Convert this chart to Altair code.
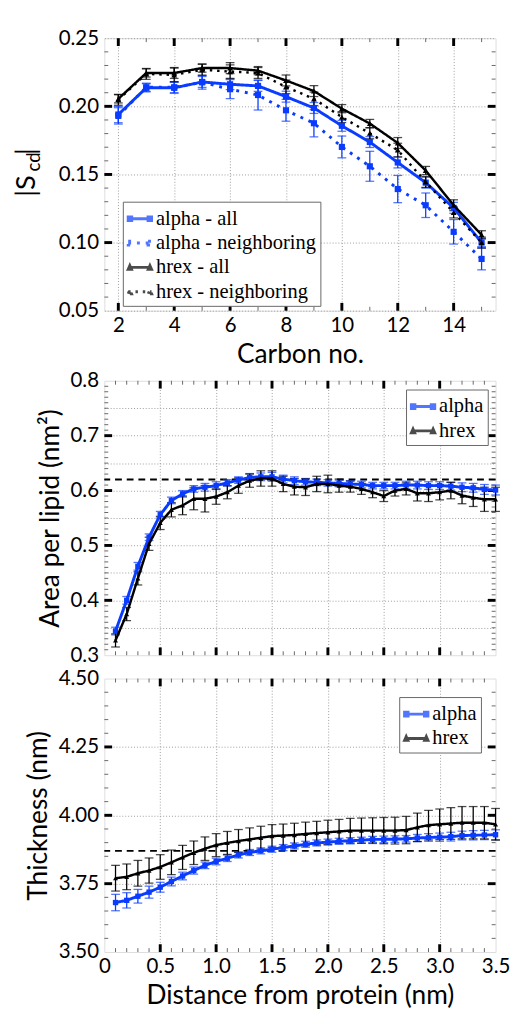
import altair as alt
import pandas as pd

# ---------------- data ----------------
carbon = [2, 3, 4, 5, 6, 7, 8, 9, 10, 11, 12, 13, 14, 15]
scd_alpha_all = [0.194, 0.2136, 0.2136, 0.2179, 0.2162, 0.215, 0.2071, 0.1988, 0.1857, 0.1738, 0.1588, 0.1440, 0.1255, 0.1000]
scd_alpha_all_err = [0.006, 0.003, 0.004, 0.004, 0.004, 0.004, 0.004, 0.004, 0.004, 0.004, 0.004, 0.004, 0.004, 0.003]
scd_alpha_nb = [0.193, 0.2140, 0.2140, 0.2176, 0.2126, 0.2083, 0.1971, 0.1876, 0.1702, 0.1560, 0.1393, 0.1274, 0.1079, 0.0880]
scd_alpha_nb_err = [0.006, 0.003, 0.004, 0.005, 0.007, 0.011, 0.008, 0.010, 0.008, 0.011, 0.010, 0.009, 0.009, 0.008]
scd_hrex_all = [0.2055, 0.2245, 0.2245, 0.2281, 0.2281, 0.2262, 0.2190, 0.2112, 0.1983, 0.1874, 0.1731, 0.1529, 0.1274, 0.1057]
scd_hrex_all_err = [0.003, 0.003, 0.004, 0.003, 0.004, 0.003, 0.004, 0.004, 0.003, 0.003, 0.004, 0.003, 0.004, 0.003]
scd_hrex_nb = [0.2048, 0.2238, 0.2231, 0.2269, 0.2255, 0.2245, 0.2143, 0.2055, 0.1921, 0.1802, 0.1679, 0.1445, 0.1221, 0.1000]
scd_hrex_nb_err = [0.004, 0.004, 0.005, 0.004, 0.005, 0.004, 0.005, 0.005, 0.004, 0.004, 0.005, 0.004, 0.004, 0.004]

dist = [0.1, 0.2, 0.3, 0.4, 0.5, 0.6, 0.7, 0.8, 0.9, 1.0,
        1.1, 1.2, 1.3, 1.4, 1.5, 1.6, 1.7, 1.8, 1.9, 2.0,
        2.1, 2.2, 2.3, 2.4, 2.5, 2.6, 2.7, 2.8, 2.9, 3.0,
        3.1, 3.2, 3.3, 3.4, 3.5]
apl_alpha = [0.344, 0.400, 0.462, 0.515, 0.556, 0.582, 0.594, 0.603, 0.606, 0.609,
             0.614, 0.619, 0.624, 0.625, 0.625, 0.621, 0.618, 0.616, 0.615, 0.614,
             0.613, 0.612, 0.611, 0.609, 0.609, 0.609, 0.610, 0.610, 0.609, 0.609,
             0.608, 0.606, 0.605, 0.602, 0.601]
apl_alpha_err = [0.007, 0.007, 0.007, 0.006, 0.006, 0.006, 0.006, 0.006, 0.007, 0.007,
                 0.006, 0.006, 0.007, 0.007, 0.008, 0.007, 0.007, 0.006, 0.006, 0.006,
                 0.006, 0.006, 0.006, 0.006, 0.006, 0.006, 0.007, 0.007, 0.007, 0.007,
                 0.007, 0.008, 0.008, 0.009, 0.009]
apl_hrex = [0.327, 0.375, 0.440, 0.503, 0.541, 0.565, 0.573, 0.585, 0.585, 0.589,
            0.597, 0.609, 0.618, 0.622, 0.622, 0.612, 0.607, 0.606, 0.612, 0.612,
            0.609, 0.607, 0.603, 0.597, 0.590, 0.600, 0.603, 0.595, 0.595, 0.597,
            0.600, 0.591, 0.587, 0.584, 0.584]
apl_hrex_err = [0.012, 0.012, 0.012, 0.012, 0.012, 0.013, 0.017, 0.020, 0.024, 0.014,
                0.012, 0.014, 0.012, 0.014, 0.014, 0.014, 0.015, 0.015, 0.014, 0.016,
                0.012, 0.010, 0.010, 0.010, 0.010, 0.010, 0.011, 0.014, 0.015, 0.014,
                0.015, 0.015, 0.016, 0.022, 0.022]
thk_alpha = [3.681, 3.689, 3.704, 3.719, 3.737, 3.758, 3.778, 3.798, 3.817, 3.831,
             3.843, 3.855, 3.864, 3.870, 3.876, 3.882, 3.888, 3.894, 3.899, 3.902,
             3.905, 3.907, 3.909, 3.912, 3.912, 3.913, 3.914, 3.917, 3.919, 3.920,
             3.922, 3.926, 3.927, 3.928, 3.929]
thk_alpha_err = [0.030, 0.028, 0.025, 0.022, 0.018, 0.016, 0.014, 0.013, 0.012, 0.012,
                 0.012, 0.011, 0.011, 0.011, 0.011, 0.011, 0.011, 0.011, 0.011, 0.011,
                 0.011, 0.011, 0.011, 0.011, 0.012, 0.012, 0.012, 0.013, 0.014, 0.015,
                 0.016, 0.016, 0.017, 0.017, 0.018]
thk_hrex = [3.770, 3.775, 3.788, 3.798, 3.811, 3.828, 3.846, 3.863, 3.878, 3.891,
            3.899, 3.906, 3.912, 3.918, 3.924, 3.926, 3.928, 3.932, 3.935, 3.938,
            3.941, 3.944, 3.944, 3.944, 3.944, 3.944, 3.946, 3.956, 3.964, 3.967,
            3.970, 3.973, 3.973, 3.973, 3.967]
thk_hrex_err = [0.047, 0.047, 0.047, 0.046, 0.045, 0.045, 0.044, 0.043, 0.043, 0.042,
                0.042, 0.042, 0.042, 0.042, 0.042, 0.042, 0.043, 0.043, 0.043, 0.044,
                0.044, 0.045, 0.046, 0.047, 0.048, 0.049, 0.050, 0.052, 0.054, 0.056,
                0.058, 0.059, 0.059, 0.059, 0.058]
apl_ref = 0.62
thk_ref = 3.87

top_names = ["alpha - all", "alpha - neighboring", "hrex - all", "hrex - neighboring"]

top_xticks = [2, 4, 6, 8, 10, 12, 14]
top_yticks = [0.05, 0.10, 0.15, 0.20, 0.25]
apl_yticks = [0.3, 0.4, 0.5, 0.6, 0.7, 0.8]
thk_yticks = [3.50, 3.75, 4.00, 4.25, 4.50]
dist_xticks = [0, 0.5, 1.0, 1.5, 2.0, 2.5, 3.0, 3.5]

# ---------------- style ----------------
BLUE = "#0a3cff"
BLACK = "#000000"
SANS = "Lato"
SERIF = "Liberation Serif"
W = 402
SOLID = [1, 0]

SQ = "M-1,0H1M-1,-0.16H-0.7V0.16H-1ZM0.7,-0.16H1V0.16H0.7Z"
TR = "M-1,0H1M-1,0.17L-0.86,-0.15L-0.72,0.17ZM0.72,0.17L0.86,-0.15L1,0.17Z"


def frame(xs, ys, name, e):
    return pd.DataFrame({"x": xs, "y": ys, "lo": [a - b for a, b in zip(ys, e)],
                         "hi": [a + b for a, b in zip(ys, e)], "series": name})


def grid_axis(orient, values):
    return alt.Axis(orient=orient, values=values, labels=False, domain=False, ticks=False,
                    grid=True, gridDash=[1, 2], gridColor="#9a9a9a", gridWidth=1,
                    title=None, minExtent=0, maxExtent=0)


def tick_layers(values, scale, which, H, size, width, color):
    d = alt.Chart(pd.DataFrame({"v": values})).mark_rule(strokeWidth=width, color=color)
    out = []
    if which == "x":
        X = alt.X("v:Q", scale=scale, axis=None)
        out.append(d.encode(x=X, y=alt.value(H), y2=alt.value(H - size)))
        out.append(d.encode(x=X, y=alt.value(0), y2=alt.value(size)))
    else:
        Y = alt.Y("v:Q", scale=scale, axis=None)
        out.append(d.encode(y=Y, x=alt.value(0), x2=alt.value(size)))
        out.append(d.encode(y=Y, x=alt.value(W), x2=alt.value(W - size)))
    return out


def panel(series, xdom, ydom, xlab, xlabexpr, ylab, yfmt, xgrid, ygrid,
          xmaj, xmin, ymaj, ymin, xtitle, ytitle, legxy, H, ref=None, extra=()):
    xs = alt.Scale(domain=xdom, nice=False, zero=False)
    ys = alt.Scale(domain=ydom, nice=False, zero=False)
    df = pd.concat([s["df"] for s in series])
    layers = []
    pts = alt.Chart(df).mark_point(opacity=0)
    layers.append(pts.encode(x=alt.X("x:Q", scale=xs, axis=grid_axis("bottom", xgrid)),
                             y=alt.Y("y:Q", scale=ys, axis=grid_axis("left", ygrid))))
    if xtitle is not None:
        xax = alt.Axis(orient="bottom", values=xlab, labelExpr=xlabexpr, ticks=False, domain=False,
                       grid=False, labelFont=SANS, labelFontSize=21, labelColor="black",
                       labelPadding=4, labelFlush=False, labelOverlap=False,
                       title=xtitle, titleFont=SANS, titleFontSize=27, titleFontWeight="normal",
                       titleColor="black", titlePadding=7)
    else:
        xax = None
    yargs = dict(orient="left", values=ylab, format=yfmt, ticks=False, domain=False, grid=False,
                 labelFont=SANS, labelFontSize=21, labelColor="black", labelPadding=6,
                 labelFlush=False, labelOverlap=False)
    if ytitle is not None:
        yargs.update(title=ytitle, titleFont=SANS, titleFontSize=27, titleFontWeight="normal",
                     titleColor="black", titlePadding=6)
    else:
        yargs.update(title=None)
    layers.append(pts.encode(x=alt.X("x:Q", scale=xs, axis=xax),
                             y=alt.Y("y:Q", scale=ys, axis=alt.Axis(**yargs))))
    # inward ticks on all four sides
    layers += tick_layers(xmin, xs, "x", H, 4, 1, "#666")
    layers += tick_layers(ymin, ys, "y", H, 4, 1, "#666")
    layers += tick_layers(xmaj, xs, "x", H, 8, 3, "black")
    layers += tick_layers(ymaj, ys, "y", H, 8, 3, "black")
    if ref is not None:
        layers.append(alt.Chart(pd.DataFrame({"r": [ref]})).mark_rule(
            strokeDash=[7, 5], strokeWidth=2, color="black").encode(
            y=alt.Y("r:Q", scale=ys, axis=None)))
    X = alt.X("x:Q", scale=xs, axis=None)
    for s in series:
        b = alt.Chart(s["df"])
        c = s["color"]
        layers.append(b.mark_rule(strokeWidth=1.3, color=c).encode(
            x=X, y=alt.Y("lo:Q", scale=ys, axis=None), y2="hi:Q"))
        for f in ["lo", "hi"]:
            layers.append(b.mark_tick(orient="horizontal", size=9, thickness=1.3, color=c).encode(
                x=X, y=alt.Y(f + ":Q", scale=ys, axis=None)))
    for s in series:
        b = alt.Chart(s["df"])
        layers.append(b.mark_line(color=s["color"], strokeWidth=s["width"],
                                  strokeDash=s["dash"]).encode(
            x=X, y=alt.Y("y:Q", scale=ys, axis=None)))
        layers.append(b.mark_point(filled=True, shape=s["shape"], size=s["msize"], opacity=1,
                                   color=s["color"]).encode(
            x=X, y=alt.Y("y:Q", scale=ys, axis=None)))
    # legend (hidden layer: points outside the domain, clipped)
    names = [s["df"]["series"].iloc[0] for s in series]
    leg = alt.Legend(title=None, orient="none", legendX=legxy[0], legendY=legxy[1],
                     padding=4, strokeColor="#666", fillColor="white",
                     labelFont=SERIF, labelFontSize=21, labelColor="black", labelLimit=400,
                     symbolSize=576, symbolStrokeWidth=3, rowPadding=1, labelOffset=3)
    ldf = pd.DataFrame({"series": names, "x": [xdom[0]] * len(names),
                        "y": [ydom[0] - 0.5 * (ydom[1] - ydom[0])] * len(names)})
    layers.append(alt.Chart(ldf).mark_point(filled=False, clip=True, strokeWidth=3).encode(
        x=X, y=alt.Y("y:Q", scale=ys, axis=None),
        stroke=alt.Stroke("series:N", scale=alt.Scale(domain=names, range=[s["color"] for s in series]), legend=leg),
        shape=alt.Shape("series:N", scale=alt.Scale(domain=names, range=[s["legshape"] for s in series]), legend=leg),
        strokeDash=alt.StrokeDash("series:N", scale=alt.Scale(domain=names, range=[s["dash"] for s in series]), legend=leg)))
    layers.extend(extra)
    return alt.layer(*layers).resolve_axis(x="independent", y="independent").properties(
        width=W, height=H)


def txt(s, x, y, size):
    return alt.Chart(pd.DataFrame({"t": [s]})).mark_text(
        angle=270, align="left", baseline="alphabetic", font=SANS, fontSize=size,
        color="black").encode(text="t:N", x=alt.value(x), y=alt.value(y))


def spec(df, color, dash, width, shape, msize, legshape):
    return dict(df=df, color=color, dash=dash, width=width, shape=shape, msize=msize, legshape=legshape)


# ---------- top panel ----------
top_series = [
    spec(frame(carbon, scd_alpha_all, top_names[0], scd_alpha_all_err), BLUE, SOLID, 3, "square", 40, SQ),
    spec(frame(carbon, scd_alpha_nb, top_names[1], scd_alpha_nb_err), BLUE, [3, 6], 3, "square", 40, SQ),
    spec(frame(carbon, scd_hrex_all, top_names[2], scd_hrex_all_err), BLACK, SOLID, 2.5, "triangle-up", 36, TR),
    spec(frame(carbon, scd_hrex_nb, top_names[3], scd_hrex_nb_err), BLACK, [2.5, 5], 2.5, "triangle-up", 36, TR),
]
title_parts = [txt("|S", -71, 163, 28), txt("cd", -66, 137, 19), txt("|", -71, 120, 28)]
top = panel(top_series, [1.5, 15.5], [0.05, 0.25], top_xticks, "datum.value", top_yticks, ".2f",
            top_xticks, top_yticks,
            top_xticks, [3, 5, 7, 9, 11, 13, 15],
            [0.10, 0.15, 0.20], [round(0.05 + 0.01 * i, 2) for i in range(1, 20) if i % 5],
            "Carbon no.", None, (19, 168), 280, extra=title_parts)

d_minor = [round(0.1 * i, 1) for i in range(1, 35) if i % 5]
mid_series = [
    spec(frame(dist, apl_alpha, "alpha", apl_alpha_err), BLUE, SOLID, 3, "square", 30, SQ),
    spec(frame(dist, apl_hrex, "hrex", apl_hrex_err), BLACK, SOLID, 2.5, "triangle-up", 26, TR),
]
mid = panel(mid_series, [0, 3.5], [0.3, 0.8], dist_xticks, "datum.value", apl_yticks, ".1f",
            [0.5, 1.0, 1.5, 2.0, 2.5, 3.0], [round(0.3 + 0.05 * i, 2) for i in range(1, 10)],
            [0.5, 1.0, 1.5, 2.0, 2.5, 3.0], d_minor,
            [0.4, 0.5, 0.6, 0.7], [round(0.3 + 0.01 * i, 2) for i in range(1, 50) if i % 10],
            None, "Area per lipid (nm\u00b2)", (310, 9), 282, ref=apl_ref)

bot_series = [
    spec(frame(dist, thk_alpha, "alpha", thk_alpha_err), BLUE, SOLID, 3, "square", 30, SQ),
    spec(frame(dist, thk_hrex, "hrex", thk_hrex_err), BLACK, SOLID, 2.5, "triangle-up", 26, TR),
]
bot = panel(bot_series, [0, 3.5], [3.5, 4.5], dist_xticks,
            "datum.value == 0 ? '0' : format(datum.value, '.1f')", thk_yticks, ".2f",
            [0.5, 1.0, 1.5, 2.0, 2.5, 3.0], [3.75, 4.0, 4.25],
            [0.5, 1.0, 1.5, 2.0, 2.5, 3.0], d_minor,
            [3.75, 4.0, 4.25], [round(3.5 + 0.05 * i, 2) for i in range(1, 20) if i % 5],
            "Distance from protein (nm)", "Thickness (nm)", (303, 19), 281, ref=thk_ref)

chart = alt.vconcat(top, mid, bot, spacing=1).resolve_scale(
    stroke="independent", shape="independent", strokeDash="independent").resolve_legend(
    stroke="independent", shape="independent", strokeDash="independent").configure_view(
    stroke="#999999", strokeWidth=1.2).configure(background="white")

chart.save("out.html", embed_options={"renderer": "svg", "actions": False})
